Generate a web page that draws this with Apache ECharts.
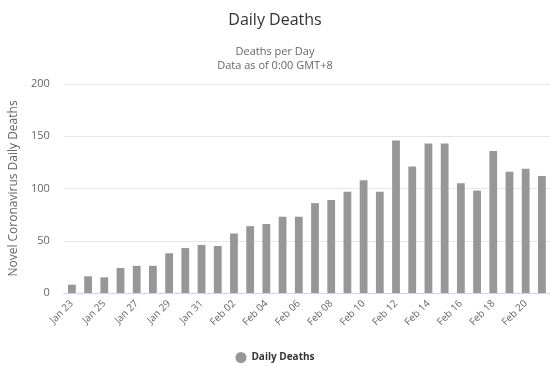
<!DOCTYPE html>
<html>
<head>
<meta charset="utf-8">
<script src="https://cdn.jsdelivr.net/npm/echarts@6/dist/echarts.min.js"></script>
<style>
  html, body { margin: 0; padding: 0; background: #fff; }
  #chart { width: 550px; height: 366px; }
</style>
</head>
<body>
<div id="chart"></div>
<script>
// Daily death counts, Jan 23 – Feb 21
const dates = [
  'Jan 23', 'Jan 24', 'Jan 25', 'Jan 26', 'Jan 27', 'Jan 28', 'Jan 29', 'Jan 30', 'Jan 31',
  'Feb 01', 'Feb 02', 'Feb 03', 'Feb 04', 'Feb 05', 'Feb 06', 'Feb 07', 'Feb 08', 'Feb 09',
  'Feb 10', 'Feb 11', 'Feb 12', 'Feb 13', 'Feb 14', 'Feb 15', 'Feb 16', 'Feb 17', 'Feb 18',
  'Feb 19', 'Feb 20', 'Feb 21'
];
const dailyDeaths = [
  8, 16, 15, 24, 26, 26, 38, 43, 46,
  45, 57, 64, 66, 73, 73, 86, 89, 97,
  108, 97, 146, 121, 143, 143, 105, 98, 136,
  116, 119, 112
];
const yTicks = { min: 0, max: 200, interval: 50 };

const fontFamily = '"Open Sans", "Liberation Sans", sans-serif';
const chart = echarts.init(document.getElementById('chart'), null, { renderer: 'canvas' });

chart.setOption({
  animation: false,
  backgroundColor: '#ffffff',
  textStyle: { fontFamily },
  title: [
    {
      text: 'Daily Deaths',
      left: 'center',
      top: 7,
      textStyle: { fontSize: 16, fontWeight: 'normal', color: '#333333', fontFamily }
    },
    {
      text: 'Deaths per Day\nData as of 0:00 GMT+8',
      left: 'center',
      top: 40,
      textStyle: { fontSize: 11, fontWeight: 'normal', color: '#666666', lineHeight: 14, fontFamily }
    }
  ],
  legend: {
    bottom: -2,
    left: 'center',
    icon: 'circle',
    itemWidth: 11,
    itemHeight: 11,
    itemGap: 6,
    textStyle: { fontSize: 10, fontWeight: 'bold', color: '#333333', fontFamily },
    data: ['Daily Deaths']
  },
  grid: {
    left: 55,
    right: -5,
    top: 84,
    bottom: 73,
    containLabel: false
  },
  xAxis: {
    type: 'category',
    data: dates,
    axisLine: { lineStyle: { color: '#ccd6eb' } },
    axisTick: { show: false },
    axisLabel: {
      interval: 1,
      rotate: 45,
      fontSize: 10,
      color: '#666666',
      margin: 9,
      fontFamily
    }
  },
  yAxis: {
    type: 'value',
    min: yTicks.min,
    max: yTicks.max,
    interval: yTicks.interval,
    name: 'Novel Coronavirus Daily Deaths',
    nameLocation: 'middle',
    nameGap: 40,
    nameTextStyle: { fontSize: 12, color: '#666666', fontFamily },
    axisLine: { show: false },
    axisTick: { show: false },
    axisLabel: { fontSize: 11, color: '#666666', margin: 14, fontFamily },
    splitLine: { lineStyle: { color: '#e6e6e6' } }
  },
  series: [
    {
      name: 'Daily Deaths',
      type: 'bar',
      data: dailyDeaths,
      barCategoryGap: '52%',
      itemStyle: { color: '#979797' }
    }
  ]
});
</script>
</body>
</html>
